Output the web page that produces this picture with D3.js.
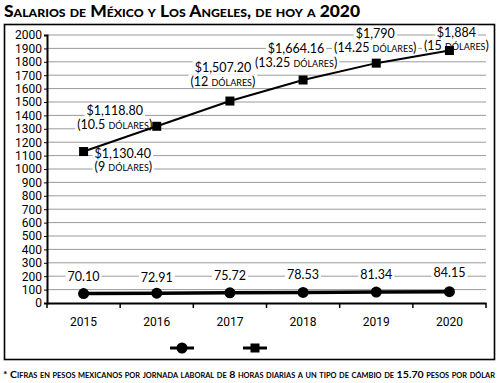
<!DOCTYPE html>
<html><head><meta charset="utf-8">
<script src="https://cdn.jsdelivr.net/npm/d3@7"></script>
<style>
body{margin:0;background:#fff}
text{font-family:Lato, Roboto, sans-serif;fill:#000}
</style>
</head><body>
<svg id="c" width="500" height="383"></svg>
<script>
const years = ["2015","2016","2017","2018","2019","2020"];
const mexico = [70.10, 72.91, 75.72, 78.53, 81.34, 84.15];
const mexicoLabels = ["70.10","72.91","75.72","78.53","81.34","84.15"];
const losAngeles = [1130.40, 1318.80, 1507.20, 1664.16, 1790, 1884];
const laPesoLabels = ["$1,130.40","$1,118.80","$1,507.20","$1,664.16","$1,790","$1,884"];
const laDollarLabels = ["(9 dólares)","(10.5 dólares)","(12 dólares)","(13.25 dólares)","(14.25 dólares)","(15 dólares)"];
const yTicks = d3.range(0, 2001, 100);
const title = "Salarios de México y Los Angeles, de hoy a 2020";
const footnote = "* Cifras en pesos mexicanos por jornada laboral de 8 horas diarias a un tipo de cambio de 15.70 pesos por dólar";

// label placement (offsets from the point, layout only)
const laLabelPlace = [
  {dx: 11, dy: 6, anchor: "start"},
  {dx: -42, dy: -11, anchor: "middle"},
  {dx: -7, dy: -29, anchor: "middle"},
  {dx: -7, dy: -27, anchor: "middle"},
  {dx: -1, dy: -25, anchor: "middle"},
  {dx: 7, dy: -14, anchor: "middle"}
];

const svg = d3.select("#c");
svg.append("rect").attr("width",500).attr("height",383).attr("fill","#fff");

// title
svg.append("text").attr("x",4).attr("y",17)
  .style("font-weight","900").style("font-variant","small-caps").style("font-size","17px")
  .attr("textLength",356).attr("lengthAdjust","spacingAndGlyphs")
  .text(title);

// frame
svg.append("rect").attr("x",4.5).attr("y",24.5).attr("width",490).attr("height",335)
  .attr("fill","none").attr("stroke","#000").attr("stroke-width",1.6);

const x = d3.scaleBand().domain(years).range([47,486]);
const y = d3.scaleLinear().domain([0,2000]).range([303,35]);
const cx = d => x(d) + x.bandwidth()/2;

// gridlines
svg.append("g").selectAll("line").data(yTicks.filter(v=>v>0)).join("line")
  .attr("x1",47).attr("x2",486).attr("y1",d=>y(d)).attr("y2",d=>y(d))
  .attr("stroke","#9a9a9a").attr("stroke-width",1);

// y axis
const ya = svg.append("g").attr("transform","translate(47,0)")
  .call(d3.axisLeft(y).tickValues(yTicks).tickFormat(d3.format("d")).tickSize(3).tickPadding(2));
ya.select(".domain").attr("stroke","#000").attr("stroke-width",2);
ya.selectAll(".tick line").attr("stroke","#000");
ya.selectAll("text").style("font-family","Roboto, sans-serif").style("font-size","12px").attr("fill","#000");

// x axis
const xa = svg.append("g").attr("transform","translate(0,303)")
  .call(d3.axisBottom(x).tickSize(0).tickPadding(14));
xa.select(".domain").attr("stroke","#000").attr("stroke-width",2);
xa.selectAll("text").style("font-family","Roboto, sans-serif").style("font-size","12px").attr("fill","#000");
const bounds = years.map(d=>x(d)).concat([x.range()[1]]);
xa.append("g").selectAll("line").data(bounds).join("line")
  .attr("x1",d=>d).attr("x2",d=>d).attr("y1",0).attr("y2",5)
  .attr("stroke","#000").attr("stroke-width",1.5);

// label helper with white background
function label(g, xx, yy, lines, anchor){
  lines.forEach((ln,i)=>{
    const grp = g.append("g");
    const bg = grp.append("rect").attr("fill","#fff");
    const t = grp.append("text").attr("text-anchor",anchor).attr("x",xx).attr("y",yy + i*13.5)
      .style("font-size","12.5px").style("font-variant","small-caps").text(ln);
    const b = t.node().getBBox();
    bg.attr("x",b.x-2).attr("y",b.y+1).attr("width",b.width+4).attr("height",b.height-2);
  });
}

const lbl = svg.append("g");
years.forEach((yr,i)=>{
  const p = laLabelPlace[i];
  label(lbl, cx(yr)+p.dx, y(losAngeles[i])+p.dy, [laPesoLabels[i], laDollarLabels[i]], p.anchor);
});
years.forEach((yr,i)=>{
  label(lbl, cx(yr), y(mexico[i]) - 13 + (i===1?2:0) - (i===5?2:0), [mexicoLabels[i]], "middle");
});

// lines
const lineGen = d3.line().x((d,i)=>cx(years[i])).y(d=>y(d));
svg.append("path").datum(losAngeles).attr("d",lineGen).attr("fill","none").attr("stroke","#000").attr("stroke-width",2);
svg.append("path").datum(mexico).attr("d",lineGen).attr("fill","none").attr("stroke","#000").attr("stroke-width",3.5);

// markers
svg.append("g").selectAll("rect").data(losAngeles).join("rect")
  .attr("x",(d,i)=>cx(years[i])-4.5).attr("y",d=>y(d)-4.5).attr("width",9).attr("height",9).attr("fill","#000");
svg.append("g").selectAll("circle").data(mexico).join("circle")
  .attr("cx",(d,i)=>cx(years[i])).attr("cy",d=>y(d)).attr("r",5.5).attr("fill","#000");

// legend
const lg = svg.append("g").attr("transform","translate(0,348)");
lg.append("line").attr("x1",170).attr("x2",194).attr("y1",0).attr("y2",0).attr("stroke","#000").attr("stroke-width",3);
lg.append("circle").attr("cx",182).attr("cy",0).attr("r",5.5).attr("fill","#000");
lg.append("line").attr("x1",243).attr("x2",267).attr("y1",0).attr("y2",0).attr("stroke","#000").attr("stroke-width",3);
lg.append("rect").attr("x",250.5).attr("y",-4.5).attr("width",9).attr("height",9).attr("fill","#000");

// footnote
svg.append("text").attr("x",3).attr("y",378)
  .style("font-weight","700").style("font-variant","small-caps").style("font-size","10px")
  .attr("textLength",492).attr("lengthAdjust","spacingAndGlyphs")
  .text(footnote);
</script>
</body></html>
